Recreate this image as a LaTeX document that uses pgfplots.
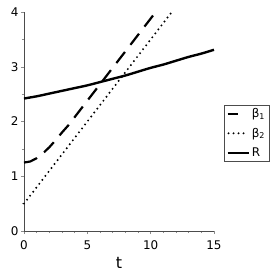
\documentclass[border=0pt]{standalone}
\usepackage{fontspec}
\setmainfont{DejaVu Sans}
\usepackage{pgfplots}
\pgfplotsset{compat=1.18}
\begin{document}
\begin{tikzpicture}
\begin{axis}[
  scale only axis,
  width=190bp, height=219bp,
  xmin=0, xmax=15, ymin=0, ymax=4,
  axis lines=left,
  axis line style={-, draw=black!70, line width=0.8pt},
  xtick={0,5,10,15}, ytick={0,1,2,3,4},
  minor xtick={1,2,3,4,6,7,8,9,11,12,13,14},
  minor ytick={0.5,1.5,2.5,3.5},
  tick style={draw=black!45, line width=0.5pt},
  major tick length=3bp, minor tick length=2bp,
  tick align=outside,
  /pgf/number format/assume math mode=true,
  ticklabel style={font=\fontsize{12}{14}\selectfont},
  xticklabel style={yshift=-3bp},
  yticklabel style={xshift=1bp},
  xlabel={t},
  xlabel style={font=\fontsize{16}{18}\selectfont, yshift=-1bp},
  clip=false,
  legend style={at={(rel axis cs:1.053,0.575)}, anchor=north west,
    draw=black!70, line width=0.6pt, font=\fontsize{12}{14}\selectfont,
    inner xsep=2bp, inner ysep=1bp, row sep=5bp, cells={anchor=west},
    /tikz/every even column/.append style={column sep=0bp}},
]
\addplot[black, line width=2.2pt, dash pattern=on 14bp off 9bp,
  legend image code/.code={\draw[black, line width=2.2pt, dash pattern=on 10bp off 30bp] (0bp,0bp) -- (20bp,0bp);}] coordinates {
 (0,1.25) (0.5,1.27) (1,1.33) (1.5,1.42) (2,1.53) (2.5,1.66) (3,1.80) (3.5,1.93)
 (4,2.08) (5,2.38) (6,2.68) (7,2.98) (8,3.28) (9,3.58) (10,3.88) (10.4,4.0)};
\addlegendentry{β\textsubscript{1}}
\addplot[black, line width=2.2pt, line cap=round, dash pattern=on 0bp off 5bp,
  legend image code/.code={\draw[black, line width=2.2pt, line cap=round, dash pattern=on 0bp off 5bp] (1bp,0bp) -- (18bp,0bp);}] coordinates {
 (0,0.5) (11.67,4.0)};
\addlegendentry{β\textsubscript{2}}
\addplot[black, line width=2.4pt, smooth,
  legend image code/.code={\draw[black, solid, line width=2.4pt] (0bp,0bp) -- (21bp,0bp);}] coordinates {
 (0,2.42) (1,2.46) (2,2.51) (3,2.56) (4,2.61) (5,2.66) (6,2.72) (7,2.78)
 (8,2.84) (9,2.91) (10,2.98) (11,3.04) (12,3.11) (13,3.18) (14,3.24) (15,3.31)};
\addlegendentry{R}
\coordinate (A) at (rel axis cs:0,0);
\end{axis}
\path (A) ++(-24bp,-42bp) rectangle ++(273bp,273bp);
\end{tikzpicture}
\end{document}
